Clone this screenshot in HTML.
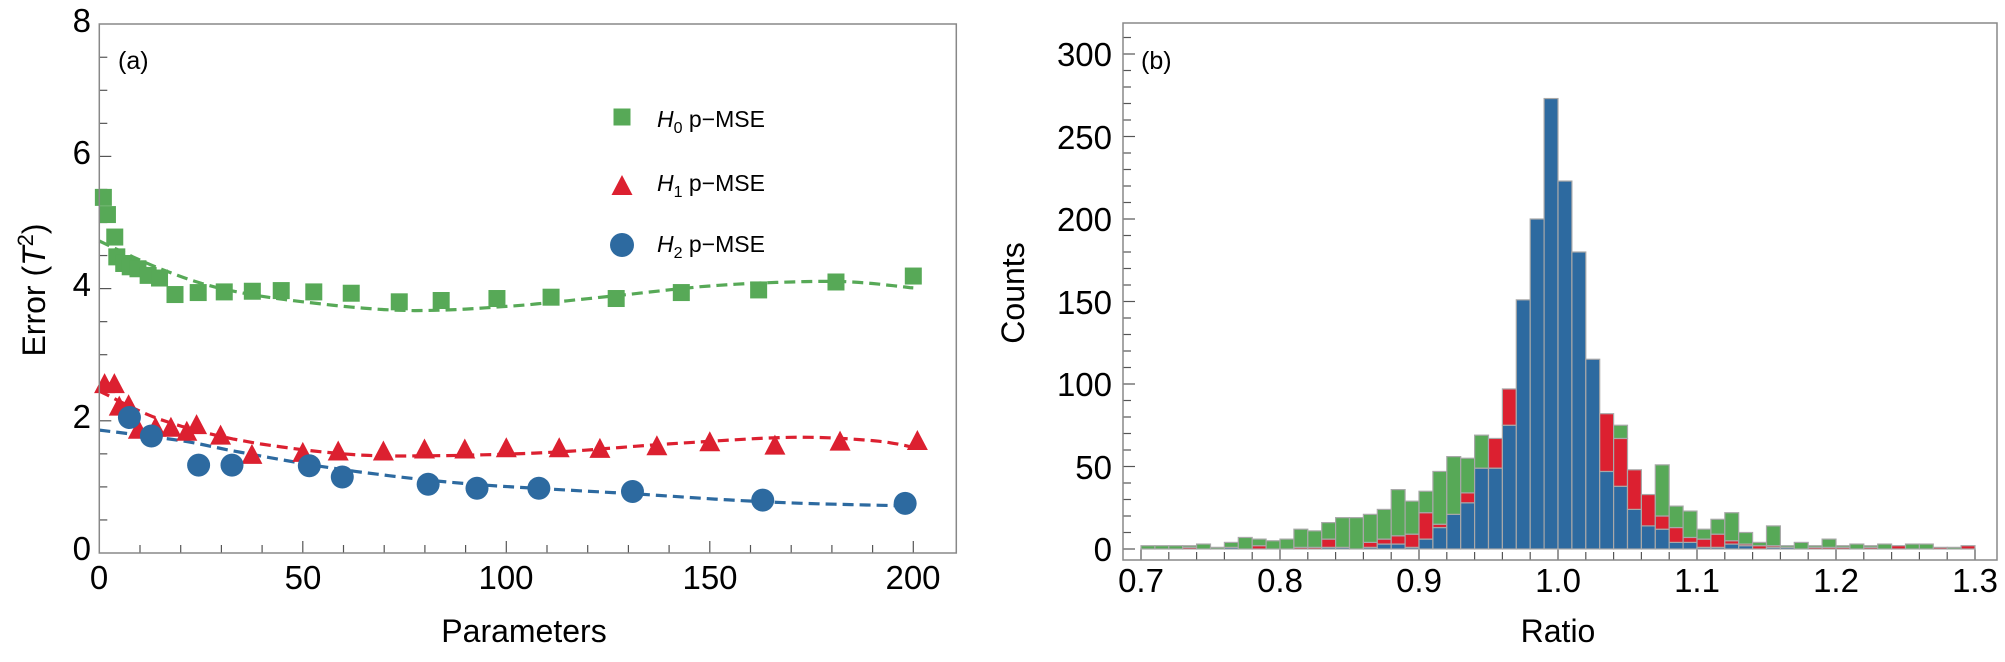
<!DOCTYPE html>
<html><head><meta charset="utf-8"><style>
html,body{margin:0;padding:0;background:#fff;}
svg{display:block;font-family:"Liberation Sans",Arial,sans-serif;}
</style></head><body>
<svg id="s" width="2005" height="662" viewBox="0 0 2005 662" xmlns="http://www.w3.org/2000/svg">
<rect width="2005" height="662" fill="#fff"/>
<g id="L"></g>
<g id="R"></g>
<rect x="99.3" y="24" width="857" height="529" fill="none" stroke="#888" stroke-width="1.5"/>
<g font-size="33" fill="#000">
<text x="91" y="32" text-anchor="end">8</text>
<text x="91" y="164" text-anchor="end">6</text>
<text x="91" y="296" text-anchor="end">4</text>
<text x="91" y="428" text-anchor="end">2</text>
<text x="91" y="560" text-anchor="end">0</text>
<text x="99" y="589" text-anchor="middle">0</text>
<text x="303" y="589" text-anchor="middle">50</text>
<text x="506" y="589" text-anchor="middle">100</text>
<text x="710" y="589" text-anchor="middle">150</text>
<text x="913" y="589" text-anchor="middle">200</text>
</g>
<text x="524" y="642" font-size="32" text-anchor="middle">Parameters</text>
<text transform="translate(45,290) rotate(-90)" font-size="32" text-anchor="middle">Error (<tspan font-style="italic">T</tspan><tspan font-size="22" dy="-12">2</tspan><tspan dy="12">)</tspan></text>
<text x="118" y="69" font-size="25">(a)</text>
<rect x="613.5" y="108.5" width="17" height="17" fill="#57a957"/>
<polygon points="611.5,195 632.5,195 622,175" fill="#dc2030"/>
<circle cx="622" cy="245" r="12" fill="#2d6aa0"/>
<g font-size="23">
<text x="657" y="127"><tspan font-style="italic">H</tspan><tspan font-size="16" dy="6">0</tspan><tspan dy="-6"> p−MSE</tspan></text>
<text x="657" y="191"><tspan font-style="italic">H</tspan><tspan font-size="16" dy="6">1</tspan><tspan dy="-6"> p−MSE</tspan></text>
<text x="657" y="252"><tspan font-style="italic">H</tspan><tspan font-size="16" dy="6">2</tspan><tspan dy="-6"> p−MSE</tspan></text>
</g>
<rect x="1123" y="23" width="874" height="537" fill="none" stroke="#888" stroke-width="1.5"/>
<g font-size="33" fill="#000">
<text x="1112" y="561" text-anchor="end">0</text>
<text x="1112" y="479" text-anchor="end">50</text>
<text x="1112" y="396" text-anchor="end">100</text>
<text x="1112" y="314" text-anchor="end">150</text>
<text x="1112" y="231" text-anchor="end">200</text>
<text x="1112" y="149" text-anchor="end">250</text>
<text x="1112" y="66" text-anchor="end">300</text>
<text x="1141" y="592" text-anchor="middle">0.7</text>
<text x="1280" y="592" text-anchor="middle">0.8</text>
<text x="1419" y="592" text-anchor="middle">0.9</text>
<text x="1558" y="592" text-anchor="middle">1.0</text>
<text x="1697" y="592" text-anchor="middle">1.1</text>
<text x="1836" y="592" text-anchor="middle">1.2</text>
<text x="1975" y="592" text-anchor="middle">1.3</text>
</g>
<text x="1558" y="642" font-size="32" text-anchor="middle">Ratio</text>
<text transform="translate(1024,293) rotate(-90)" font-size="32" text-anchor="middle">Counts</text>
<text x="1141" y="69" font-size="25">(b)</text>
</svg>
<script>
(function(){
var NS="http://www.w3.org/2000/svg";
function el(p,n,a){var e=document.createElementNS(NS,n);for(var k in a)e.setAttribute(k,a[k]);p.appendChild(e);return e;}
var L=document.getElementById('L'),R=document.getElementById('R');
var X=function(p){return 99.3+4.07*p;},Y=function(v){return 553-66.1*v;};
for(var v=0.5;v<8;v+=0.5){var big=(v%2==0);el(L,'line',{x1:99.3,x2:99.3+(big?12:8),y1:Y(v),y2:Y(v),stroke:'#555','stroke-width':1.2});}
for(var p=10;p<=200;p+=10){var big=(p%50==0);el(L,'line',{x1:X(p),x2:X(p),y1:553,y2:553-(big?12:8),stroke:'#555','stroke-width':1.2});}
function curve(pts,col){
 var d='';var N=pts.length;
 for(var i=0;i<N-1;i++){var p0=pts[Math.max(0,i-1)],p1=pts[i],p2=pts[i+1],p3=pts[Math.min(N-1,i+2)];
  for(var t=0;t<=1;t+=0.1){var t2=t*t,t3=t2*t;
   var x=0.5*((2*p1[0])+(-p0[0]+p2[0])*t+(2*p0[0]-5*p1[0]+4*p2[0]-p3[0])*t2+(-p0[0]+3*p1[0]-3*p2[0]+p3[0])*t3);
   var y=0.5*((2*p1[1])+(-p0[1]+p2[1])*t+(2*p0[1]-5*p1[1]+4*p2[1]-p3[1])*t2+(-p0[1]+3*p1[1]-3*p2[1]+p3[1])*t3);
   d+=(d?'L':'M')+X(x).toFixed(1)+','+Y(y).toFixed(1);}}
 el(L,'path',{d:d,fill:'none',stroke:col,'stroke-width':3.2,'stroke-dasharray':'11,6'});
}
var G='#57a957',Rd='#dc2030',B='#2d6aa0';
curve([[0,4.72],[15,4.3],[30,4.0],[50,3.8],[75,3.67],[100,3.73],[125,3.88],[150,4.04],[170,4.1],[185,4.1],[200,4.01]],G);
curve([[0,2.45],[15,2.02],[35,1.7],[60,1.5],[80,1.47],[110,1.52],[140,1.65],[170,1.75],[190,1.7],[200,1.6]],Rd);
curve([[0,1.86],[20,1.7],[35,1.52],[60,1.26],[90,1.05],[130,0.9],[165,0.77],[200,0.71]],B);
var gs=[[1,5.38],[2,5.12],[3.8,4.78],[4.3,4.48],[6,4.38],[7.6,4.33],[9.5,4.3],[12,4.2],[14.8,4.16],[18.6,3.91],[24.3,3.94],[30.7,3.95],[37.6,3.96],[44.7,3.97],[52.7,3.95],[61.9,3.93],[73.7,3.8],[84,3.82],[97.7,3.85],[111,3.87],[127,3.85],[143,3.94],[162,3.98],[181,4.1],[200,4.19]];
gs.forEach(function(q){el(L,'rect',{x:X(q[0])-8.5,y:Y(q[1])-8.5,width:17,height:17,fill:G});});
var rs=[[1.3,2.54],[3.7,2.54],[4.9,2.2],[7.2,2.22],[9.6,1.85],[13.8,1.88],[17.6,1.88],[21.5,1.82],[23.9,1.92],[29.8,1.76],[37.5,1.47],[50,1.5],[58.7,1.52],[69.8,1.52],[79.9,1.55],[89.8,1.55],[100,1.57],[113,1.57],[123,1.56],[137,1.6],[150,1.66],[166,1.61],[182,1.67],[201,1.68]];
rs.forEach(function(q){var x=X(q[0]),y=Y(q[1]);el(L,'polygon',{points:(x-10.5)+','+(y+8)+' '+(x+10.5)+','+(y+8)+' '+x+','+(y-12),fill:Rd});});
var bs=[[7.4,2.05],[12.8,1.77],[24.4,1.33],[32.6,1.33],[51.6,1.32],[59.7,1.15],[80.8,1.04],[92.8,0.98],[108,0.98],[131,0.93],[163,0.8],[198,0.75]];
bs.forEach(function(q){el(L,'circle',{cx:X(q[0]),cy:Y(q[1]),r:11.5,fill:B});});
var RX=function(r){return 1141+1390*(r-0.7);},RY=function(c){return 549-1.65*c;};
for(var c=10;c<=310;c+=10){var big=(c%50==0);el(R,'line',{x1:1123,x2:1123+(big?12:8),y1:RY(c),y2:RY(c),stroke:'#555','stroke-width':1.2});}
el(R,'line',{x1:1123,x2:1135,y1:RY(0),y2:RY(0),stroke:'#555','stroke-width':1.2});
for(var i=0;i<=30;i++){var r=0.7+i*0.02;var big=(i%5==0);el(R,'line',{x1:RX(r),x2:RX(r),y1:560,y2:560-(big?12:8),stroke:'#555','stroke-width':1.2});}
var H=[[0,0,2],[0,0,2],[0,0,2],[0,1,2],[0,0,3],[0,0,1],[1,1,4],[0,0,7],[0,2,6],[0,0,5],[0,0,6],[0,1,12],[0,1,11],[1,6,16],[1,1,19],[0,0,19],[1,4,21],[3,6,24],[3,8,36],[1,9,29],[6,22,35],[13,15,47],[21,21,56],[28,34,55],[49,49,69],[49,67,67],[75,97,97],[151,151,151],[200,200,200],[273,273,273],[223,223,223],[180,180,180],[115,115,115],[47,82,82],[38,67,75],[24,48,48],[14,33,33],[12,20,51],[4,13,26],[4,7,23],[1,6,12],[1,9,18],[3,5,22],[2,3,10],[0,2,4],[1,2,14],[1,1,2],[0,0,4],[0,1,2],[0,1,6],[0,1,2],[0,0,3],[0,1,2],[0,0,3],[0,2,2],[0,0,3],[0,0,3],[0,1,1],[0,0,1],[0,2,2]];
H.forEach(function(h,i){var x=RX(0.7+i*0.01),w=1390*0.01;
 var segs=[[0,h[0],B],[h[0],h[1],Rd],[h[1],h[2],G]];
 segs.forEach(function(s){if(s[1]>s[0])el(R,'rect',{x:x,y:RY(s[1]),width:w,height:RY(s[0])-RY(s[1]),fill:s[2],stroke:'#a8a8a8','stroke-width':1.2});});
});
})();
</script>
</body></html>
